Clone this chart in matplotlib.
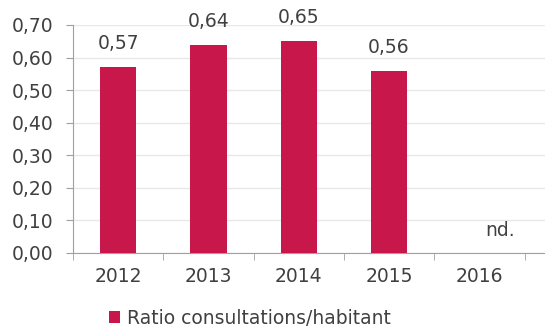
import numpy as np
import matplotlib.pyplot as plt
from matplotlib.patches import Patch

# Data
years = ["2012", "2013", "2014", "2015", "2016"]
ratios = [0.57, 0.64, 0.65, 0.56, np.nan]
labels = ["0,57", "0,64", "0,65", "0,56", "nd."]
series_name = "Ratio consultations/habitant"

BAR_COLOR = "#C8174B"
TEXT_COLOR = "#404040"
FS = 13.5

plt.rcParams.update({
    'font.family': ['DejaVu Sans'],
    'font.size': FS,
})

fig = plt.figure(figsize=(5.45, 3.27), dpi=100)
# axes in pixel coords: left 73, right 545, top 25, bottom 253
ax = fig.add_axes([73 / 545, 1 - 253 / 327, (545 - 73) / 545, (253 - 25) / 327])

x = np.arange(len(years))
vals = np.nan_to_num(ratios)
ax.bar(x, vals, width=0.4, color=BAR_COLOR, zorder=3)

# data labels ("nd." sits a bit right of the empty category)
for xi, v, lab in zip(x, ratios, labels):
    if np.isnan(v):
        ax.annotate(lab, (xi, 0), xytext=(15, 9), textcoords='offset points',
                    ha='center', va='bottom', color=TEXT_COLOR, fontsize=FS)
    else:
        ax.annotate(lab, (xi, v), xytext=(0, 10), textcoords='offset points',
                    ha='center', va='bottom', color=TEXT_COLOR, fontsize=FS)

ax.set_ylim(0, 0.70)
ax.set_yticks(np.arange(0, 0.71, 0.1))
ax.set_yticklabels([f"{t:.2f}".replace('.', ',') for t in np.arange(0, 0.71, 0.1)])
ax.set_xlim(-0.5, -0.5 + 472 / 90.3)

# category labels centered, ticks on boundaries
ax.set_xticks(x)
ax.set_xticklabels(years)
ax.set_xticks(np.arange(-0.5, len(years), 1), minor=True)
ax.tick_params(axis='x', which='major', length=0, pad=10, colors=TEXT_COLOR)
ax.tick_params(axis='x', which='minor', length=5, color='#a0a0a0', direction='out')
ax.tick_params(axis='y', length=5, pad=9, colors=TEXT_COLOR)
ax.tick_params(axis='y', color='#a0a0a0')

ax.grid(axis='y', color='#e8e8e8', linewidth=1, zorder=0)
for side in ['top', 'right']:
    ax.spines[side].set_visible(False)
ax.spines['left'].set_color('#a0a0a0')
ax.spines['bottom'].set_color('#a0a0a0')

handle = Patch(facecolor=BAR_COLOR, label=series_name)
fig.legend(handles=[handle], loc='center', bbox_to_anchor=(250 / 545, 1 - 318 / 327),
           frameon=False, fontsize=FS, handlelength=0.6, handleheight=0.6,
           handletextpad=0.35, labelcolor=TEXT_COLOR, borderpad=0)

plt.savefig("out.png", dpi=100)
